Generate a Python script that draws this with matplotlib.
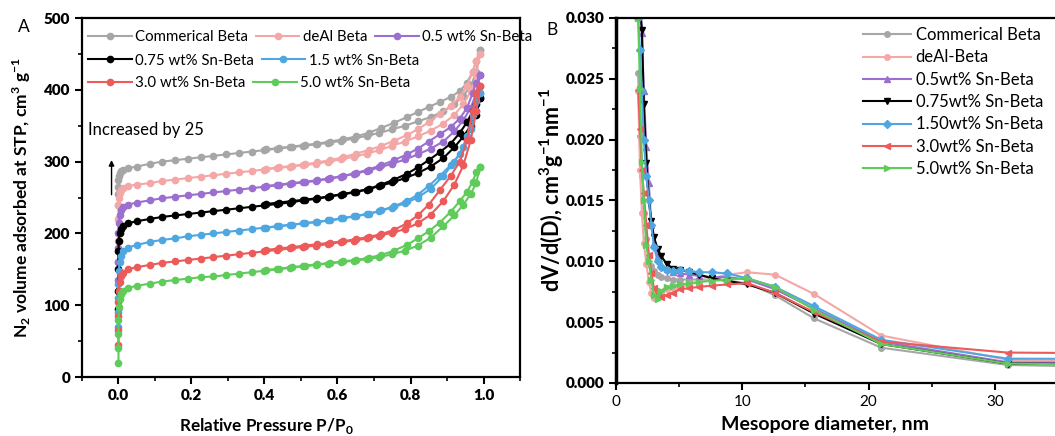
import matplotlib
matplotlib.use('Agg')
import matplotlib.pyplot as plt
from matplotlib.lines import Line2D
from matplotlib.ticker import MultipleLocator, FormatStrFormatter

plt.rcParams['font.family'] = ['Lato', 'DejaVu Sans']
plt.rcParams['mathtext.fontset'] = 'custom'
plt.rcParams['mathtext.rm'] = 'Lato'
plt.rcParams['mathtext.bf'] = 'Lato:bold'

# ---- panel A: N2 isotherms (adsorption + desorption branch)
P_ads = [0.0, 0.0, 0.0, 0.0, 0.001, 0.003, 0.006, 0.012, 0.025, 0.05,
         0.085, 0.12, 0.155, 0.19, 0.225, 0.26, 0.295, 0.33, 0.365, 0.40,
         0.435, 0.47, 0.505, 0.54, 0.575, 0.61, 0.645, 0.68, 0.715, 0.75,
         0.785, 0.82, 0.855, 0.89, 0.92, 0.945, 0.965, 0.98, 0.99]
P_des = [0.99, 0.98, 0.97, 0.955, 0.935, 0.91, 0.88, 0.85, 0.82, 0.79,
         0.755, 0.72, 0.685, 0.65, 0.615, 0.58, 0.545, 0.51, 0.475, 0.44, 0.405]

iso_labels = ['Commerical Beta', 'deAl Beta', '0.5 wt% Sn-Beta', '0.75 wt% Sn-Beta',
              '1.5 wt% Sn-Beta', '3.0 wt% Sn-Beta', '5.0 wt% Sn-Beta']

ads_comm = [240, 255, 265, 275, 280, 284, 287, 289, 291, 293, 297, 300, 302, 304, 306, 308, 310, 312, 314, 316,
            318, 320, 322, 324, 326, 329, 332, 336, 340, 345, 350, 356, 362, 370, 380, 392, 405, 425, 455]
des_comm = [455, 440, 425, 410, 398, 390, 383, 376, 369, 362, 354, 347, 340, 335, 331, 328, 325, 323, 321, 319, 317]

ads_deal = [160, 190, 220, 240, 250, 256, 260, 263, 266, 268, 270, 273, 275, 277, 279, 281, 283, 285, 287, 289,
            291, 293, 295, 297, 300, 303, 307, 311, 316, 322, 328, 335, 343, 353, 365, 380, 398, 420, 450]
des_deal = [450, 440, 425, 405, 390, 378, 366, 355, 345, 337, 329, 322, 316, 311, 306, 302, 299, 296, 294, 292, 290]

ads_05 = [135, 160, 180, 200, 215, 225, 232, 237, 240, 243, 246, 249, 251, 253, 255, 257, 259, 261, 263, 265,
          267, 269, 271, 273, 276, 279, 283, 287, 292, 297, 303, 310, 318, 328, 342, 358, 375, 395, 420]
des_05 = [420, 410, 395, 375, 360, 348, 338, 328, 318, 310, 302, 295, 289, 284, 280, 277, 274, 272, 270, 268, 266]

ads_075 = [95, 120, 150, 175, 190, 200, 206, 211, 214, 217, 220, 223, 225, 227, 229, 231, 233, 235, 237, 239,
           241, 243, 246, 248, 251, 254, 257, 261, 266, 271, 277, 284, 293, 305, 320, 335, 350, 365, 388]
des_075 = [388, 380, 370, 355, 340, 325, 313, 302, 292, 283, 275, 268, 262, 258, 255, 252, 249, 247, 245, 243, 241]

ads_15 = [70, 90, 110, 130, 148, 160, 168, 175, 180, 184, 188, 191, 193, 196, 198, 200, 202, 204, 206, 208,
          210, 212, 214, 216, 218, 221, 224, 227, 231, 236, 242, 250, 262, 280, 300, 320, 345, 370, 395]
des_15 = [395, 385, 365, 335, 310, 295, 280, 266, 254, 245, 238, 232, 227, 224, 221, 218, 216, 214, 212, 210, 208]

ads_30 = [45, 65, 85, 105, 120, 133, 140, 145, 150, 153, 156, 159, 161, 163, 165, 167, 169, 171, 173, 175,
          177, 179, 181, 183, 185, 188, 190, 193, 197, 201, 206, 214, 226, 245, 268, 295, 330, 370, 405]
des_30 = [405, 395, 370, 330, 300, 280, 260, 240, 225, 214, 205, 199, 195, 192, 189, 187, 185, 183, 181, 179, 177]

ads_50 = [20, 40, 60, 80, 97, 108, 115, 120, 124, 127, 130, 133, 135, 137, 139, 140, 142, 144, 146, 148,
          150, 152, 154, 156, 158, 160, 162, 164, 167, 171, 176, 183, 194, 210, 225, 240, 255, 270, 293]
des_50 = [293, 285, 272, 258, 245, 230, 215, 203, 193, 184, 176, 170, 166, 163, 161, 159, 157, 155, 153, 151, 149]

# ---- panel B: BJH pore size distribution
D = [1.75, 1.9, 2.05, 2.2, 2.4, 2.6, 2.8, 3.0, 3.3, 3.6, 4.0, 4.5, 5.1, 5.8, 6.6, 7.6, 8.8, 10.4,
     12.6, 15.7, 21.0, 31.0, 45.0]
psd_labels = ['Commerical Beta', 'deAl-Beta', '0.5wt% Sn-Beta', '0.75wt% Sn-Beta',
              '1.50wt% Sn-Beta', '3.0wt% Sn-Beta', '5.0wt% Sn-Beta']
psd_comm = [0.0255, 0.0203, 0.0170, 0.0140, 0.0118, 0.0104, 0.0096, 0.0092, 0.0089, 0.0087, 0.0086, 0.0085,
            0.0085, 0.0085, 0.0085, 0.0085, 0.0084, 0.0082, 0.0072, 0.0053, 0.0029, 0.00148, 0.0012]
psd_deal = [0.0240, 0.0175, 0.0140, 0.0115, 0.0098, 0.0083, 0.0074, 0.0070, 0.0072, 0.0075, 0.0077, 0.0078,
            0.0079, 0.0081, 0.0083, 0.0086, 0.0089, 0.0091, 0.0089, 0.0073, 0.0039, 0.0019, 0.0016]
psd_05 = [0.0340, 0.0310, 0.0288, 0.0240, 0.0194, 0.0164, 0.0130, 0.0115, 0.0104, 0.0097, 0.0094, 0.0091,
          0.0090, 0.0089, 0.0088, 0.0087, 0.0087, 0.0085, 0.0077, 0.0061, 0.0034, 0.0017, 0.0016]
psd_075 = [0.0340, 0.0310, 0.0290, 0.0229, 0.0181, 0.0149, 0.0133, 0.0120, 0.0110, 0.0104, 0.0098, 0.0094,
           0.0093, 0.0091, 0.0089, 0.0086, 0.0084, 0.0081, 0.0074, 0.0057, 0.0032, 0.0016, 0.0015]
psd_15 = [0.0300, 0.0274, 0.0240, 0.0200, 0.0170, 0.0150, 0.0130, 0.0112, 0.0100, 0.0095, 0.0093, 0.0092,
          0.0093, 0.0092, 0.0091, 0.0091, 0.0090, 0.0086, 0.0079, 0.0063, 0.00355, 0.0020, 0.00195]
psd_30 = [0.0241, 0.0209, 0.0175, 0.0156, 0.0130, 0.0105, 0.0090, 0.0078, 0.0072, 0.0071, 0.0072, 0.0074,
          0.0077, 0.0078, 0.0079, 0.0080, 0.0081, 0.0082, 0.0074, 0.0058, 0.0034, 0.0025, 0.0024]
psd_50 = [0.0300, 0.0242, 0.0182, 0.0150, 0.0113, 0.0100, 0.0085, 0.0072, 0.0069, 0.0076, 0.0079, 0.0080,
          0.0081, 0.0082, 0.0083, 0.0084, 0.0085, 0.0086, 0.0079, 0.0060, 0.0032, 0.0016, 0.0014]

colors = ['#a6a6a6', '#f4a7a7', '#9b6fcf', '#000000', '#4ea7e1', '#ec5a5a', '#5fcb5a']
psd_markers = ['o', 'o', '^', 'v', 'D', '<', '>']

ads_all = [ads_comm, ads_deal, ads_05, ads_075, ads_15, ads_30, ads_50]
des_all = [des_comm, des_deal, des_05, des_075, des_15, des_30, des_50]
psd_all = [psd_comm, psd_deal, psd_05, psd_075, psd_15, psd_30, psd_50]


def style_ticks(ax):
    ax.tick_params(which='major', direction='out', length=5, width=1.5, labelsize=11)
    ax.tick_params(which='minor', direction='out', length=3, width=1.2)
    for s in ax.spines.values():
        s.set_linewidth(1.6)


fig = plt.figure(figsize=(10.55, 4.36), dpi=100)

# ------------- A
ax1 = fig.add_axes([0.0777, 0.1353, 0.4152, 0.8234])
for i in range(7):
    ax1.plot(P_ads, ads_all[i], '-o', color=colors[i], lw=1.5, ms=4.5)
    ax1.plot(P_des, des_all[i], '-o', color=colors[i], lw=1.5, ms=4.5)

ax1.set_xlim(-0.1, 1.1)
ax1.set_ylim(0, 500)
ax1.xaxis.set_major_locator(MultipleLocator(0.2))
ax1.xaxis.set_minor_locator(MultipleLocator(0.1))
ax1.yaxis.set_major_locator(MultipleLocator(100))
ax1.yaxis.set_minor_locator(MultipleLocator(50))
ax1.xaxis.set_major_formatter(FormatStrFormatter('%.1f'))
style_ticks(ax1)
ax1.set_xlabel(r'Relative Pressure P/P$_\mathbf{0}$', fontsize=12.3, fontweight='bold', va='top')
ax1.xaxis.set_label_coords(0.422, -0.108)
ax1.set_ylabel(r'N$_\mathbf{2}$ volume adsorbed at STP, cm$^\mathbf{3}$ g$^\mathbf{-1}$',
               fontsize=12.5, fontweight='bold')
ax1.yaxis.set_label_coords(-0.112, 0.5)

# legend rows flow like text, so one small legend per row
h = [Line2D([], [], color=c, marker='o', lw=1.5, ms=4.5) for c in colors]
rows = [[0, 1, 2], [3, 4], [5, 6]]
row_y = [0.915, 0.861, 0.810]
for r, yy in zip(rows, row_y):
    fig.legend([h[k] for k in r], [iso_labels[k] for k in r], ncol=len(r), frameon=False,
               fontsize=10.8, loc='center left', bbox_to_anchor=(88 / 1055, yy),
               borderpad=0, borderaxespad=0,
               handlelength=2.9, handletextpad=0.25, columnspacing=0.5)

ax1.annotate('', xy=(-0.019, 306), xytext=(-0.019, 250),
             arrowprops=dict(arrowstyle='-|>', color='black', lw=1, mutation_scale=8))
ax1.text(-0.083, 344, 'Increased by 25', fontsize=12, va='center')
fig.text(24 / 1055, 1 - 27.5 / 436, 'A', fontsize=12.5, ha='center', va='center')

# ------------- B
ax2 = fig.add_axes([0.5839, 0.1216, 0.419, 0.8372])
for i in range(7):
    ax2.plot(D, psd_all[i], '-', marker=psd_markers[i], color=colors[i], lw=1.5, ms=4,
             label=psd_labels[i])
ax2.set_xlim(0, 35)
ax2.set_ylim(0, 0.030)
ax2.xaxis.set_major_locator(MultipleLocator(10))
ax2.xaxis.set_minor_locator(MultipleLocator(5))
ax2.yaxis.set_major_locator(MultipleLocator(0.005))
ax2.yaxis.set_minor_locator(MultipleLocator(0.0025))
ax2.yaxis.set_major_formatter(FormatStrFormatter('%.3f'))
style_ticks(ax2)
ax2.spines['left'].set_linewidth(2.5)
ax2.spines['right'].set_visible(False)
ax2.set_xlabel('Mesopore diameter, nm', fontsize=14, fontweight='bold', va='top')
ax2.xaxis.set_label_coords(0.472, -0.09)
ax2.set_ylabel(r'dV/d(D), cm$^\mathbf{3}$g$^\mathbf{-1}$nm$^\mathbf{-1}$', fontsize=15.5,
               fontweight='bold')
ax2.yaxis.set_label_coords(-0.113, 0.53)
ax2.legend(frameon=False, fontsize=12, loc='upper left', bbox_to_anchor=(0.559, 0.975),
           borderpad=0, borderaxespad=0, handlelength=2.9, handletextpad=0.25,
           labelspacing=0.38)
fig.text(552 / 1055, 1 - 30 / 436, 'B', fontsize=12.5, ha='center', va='center')

# heavy tick labels (after a draw so every tick exists)
fig.canvas.draw()
for t in ax1.get_xticklabels() + ax1.get_yticklabels() + ax2.get_yticklabels():
    t.set_fontweight(800)

fig.savefig('out.png', dpi=100)
